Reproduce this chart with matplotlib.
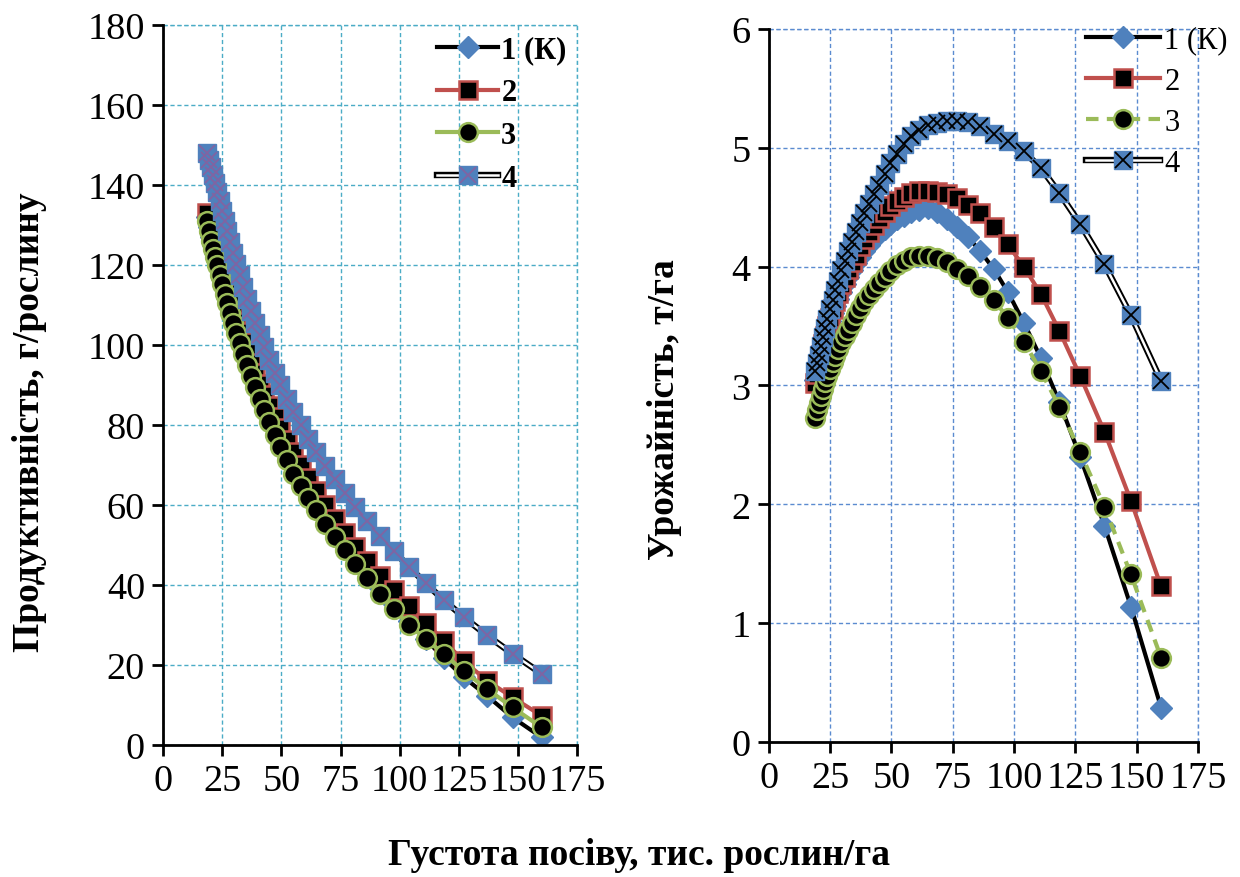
import matplotlib
matplotlib.use("Agg")
import matplotlib.pyplot as plt
import matplotlib.patheffects as pe

plt.rcParams['font.family'] = ['Liberation Serif', 'DejaVu Serif']

# густота посіву, тис. рослин/га
density = [18.7, 19.5, 20.3, 21.1, 22.0, 22.9, 23.9, 24.9, 26.0, 27.1,
           28.3, 29.6, 30.9, 32.3, 33.8, 35.4, 37.1, 38.9, 40.8, 42.8,
           44.9, 47.2, 49.6, 52.2, 55.0, 58.1, 61.4, 64.8, 68.5, 72.5,
           76.8, 81.3, 86.2, 91.8, 97.4, 104.0, 111.0, 118.5, 127.0, 136.9,
           147.7, 160.0]

# продуктивність, г/рослину
prod_1 = [132, 129.5, 127, 125, 123, 121, 118.7, 116.4, 114, 111.7,
          109.3, 106.9, 104.4, 101.9, 99.3, 96.6, 94, 91.3, 88.6, 85.9,
          83.1, 80.3, 77.4, 74.4, 71.3, 68.1, 64.8, 61.5, 58.0, 54.4,
          50.8, 47.1, 43.3, 39.2, 35.3, 30.9, 26.4, 21.8, 17.0, 12.3,
          6.9, 1.9]
prod_2 = [133, 130.5, 128, 126, 124, 122, 119.8, 117.6, 115.3, 113,
          110.6, 108.2, 105.8, 103.3, 100.8, 98.2, 95.6, 93, 90.3, 87.6,
          84.8, 82, 79.2, 76.2, 73.2, 70, 66.7, 63.4, 60, 56.5,
          53, 49.5, 46, 42.2, 38.7, 34.7, 30.6, 26.1, 21.0, 16.1,
          11.9, 7.3]
prod_3 = [131, 128.5, 126, 124, 122, 120, 117.5, 115.2, 112.8, 110.5,
          108, 105.6, 103, 100.5, 97.8, 95, 92.3, 89.5, 86.5, 83.7,
          80.8, 77.5, 74.5, 71.2, 67.8, 64.8, 61.8, 58.8, 55.2, 52.0,
          48.8, 45.2, 41.7, 37.8, 34.0, 30.0, 26.5, 22.8, 18.5, 14.0,
          9.4, 4.4]
prod_4 = [148, 146.2, 144.4, 142.6, 140.4, 138.2, 136, 133.6, 131, 128.5,
          125.8, 123, 120.3, 117.5, 114.6, 111.6, 108.6, 105.6, 102.5, 99.4,
          96.3, 93.1, 89.9, 86.6, 83.3, 79.9, 76.5, 73.2, 69.8, 66.4,
          63.0, 59.5, 56.0, 52.3, 48.6, 44.5, 40.4, 36.3, 32.0, 27.4,
          22.8, 17.8]

# урожайність, т/га
yield_1 = [3.05, 3.13, 3.20, 3.27, 3.34, 3.41, 3.48, 3.54, 3.61, 3.67,
           3.73, 3.79, 3.85, 3.91, 3.97, 4.03, 4.08, 4.13, 4.18, 4.23,
           4.28, 4.32, 4.36, 4.40, 4.43, 4.46, 4.48, 4.49, 4.46, 4.40,
           4.33, 4.25, 4.13, 3.98, 3.79, 3.53, 3.23, 2.86, 2.40, 1.82,
           1.14, 0.29]
yield_2 = [3.02, 3.10, 3.18, 3.26, 3.35, 3.42, 3.50, 3.57, 3.64, 3.71,
           3.78, 3.85, 3.91, 3.98, 4.04, 4.10, 4.17, 4.23, 4.29, 4.35,
           4.41, 4.46, 4.51, 4.55, 4.59, 4.62, 4.64, 4.64, 4.63, 4.61,
           4.58, 4.52, 4.45, 4.33, 4.19, 4.00, 3.77, 3.46, 3.08, 2.61,
           2.03, 1.31]
yield_3 = [2.73, 2.79, 2.85, 2.91, 2.97, 3.03, 3.08, 3.14, 3.20, 3.25,
           3.31, 3.37, 3.42, 3.47, 3.53, 3.59, 3.65, 3.71, 3.76, 3.81,
           3.86, 3.91, 3.96, 4.01, 4.05, 4.08, 4.09, 4.09, 4.07, 4.04,
           3.98, 3.92, 3.83, 3.72, 3.57, 3.37, 3.12, 2.82, 2.44, 1.98,
           1.41, 0.71]
yield_4 = [3.12, 3.19, 3.26, 3.33, 3.41, 3.48, 3.56, 3.64, 3.72, 3.80,
           3.88, 3.97, 4.05, 4.13, 4.21, 4.29, 4.37, 4.45, 4.53, 4.61,
           4.69, 4.78, 4.87, 4.95, 5.03, 5.10, 5.15, 5.19, 5.21, 5.23,
           5.23, 5.22, 5.18, 5.12, 5.06, 4.97, 4.83, 4.62, 4.36, 4.02,
           3.59, 3.04]

labels = ['1 (К)', '2', '3', '4']
xticks = [0, 25, 50, 75, 100, 125, 150, 175]

BLUE = '#4F81BD'
RED = '#C0504D'
GREEN = '#9BBB59'
PURPLE = '#8064A2'


def draw(ax, ys, x_color, dashed3):
    handles = []
    l1, = ax.plot(density, ys[0], color='black', lw=3.0, marker='D', ms=11,
                  mfc=BLUE, mec=BLUE)
    handles.append(l1)
    l2, = ax.plot(density, ys[1], color=RED, lw=3.0, marker='s', ms=13,
                  mfc='black', mec=RED, mew=1.8)
    handles.append(l2)
    l3, = ax.plot(density, ys[2], color=GREEN, lw=3.0,
                  ls=(0, (3, 2)) if dashed3 else '-', marker='o', ms=13.5,
                  mfc='black', mec=GREEN, mew=1.8)
    handles.append(l3)
    l4, = ax.plot(density, ys[3], color='white', lw=1.8,
                  path_effects=[pe.Stroke(linewidth=4.6, foreground='black'), pe.Normal()])
    m4, = ax.plot(density, ys[3], ls='none', marker='s', ms=13, mfc=BLUE, mec=BLUE)
    x4, = ax.plot(density, ys[3], ls='none', marker='x', ms=12, mec=x_color, mew=1.3)
    handles.append((l4, m4, x4))
    return handles


fig = plt.figure(figsize=(12.4, 8.78), dpi=100)
ax1 = fig.add_axes([0.1315, 0.1503, 0.334, 0.820])
ax2 = fig.add_axes([0.620, 0.1538, 0.346, 0.812])

h1 = draw(ax1, [prod_1, prod_2, prod_3, prod_4], PURPLE, False)
h2 = draw(ax2, [yield_1, yield_2, yield_3, yield_4], 'black', True)

for ax, gcol in ((ax1, '#4BACC6'), (ax2, '#5B8BD0')):
    ax.set_xlim(0, 175)
    ax.set_xticks(xticks)
    ax.grid(True, color=gcol, ls=(0, (3, 2)), lw=1.0)
    ax.set_axisbelow(True)
    for s in ('top', 'right'):
        ax.spines[s].set_visible(False)
    for s in ('left', 'bottom'):
        ax.spines[s].set_linewidth(2)
    ax.tick_params(direction='out', length=8, width=2, labelsize=27.5, pad=5)

ax1.set_ylim(0, 180)
ax1.set_yticks(range(0, 181, 20))
ax2.set_ylim(0, 6)
ax2.set_yticks(range(0, 7))

# рамка зверху/справа як лінія сітки
ax1.axhline(180, color='#4BACC6', ls=(0, (3, 2)), lw=1.0, clip_on=False)
ax1.axvline(175, color='#4BACC6', ls=(0, (3, 2)), lw=1.0, clip_on=False)
ax2.axhline(6, color='#5B8BD0', ls=(0, (3, 2)), lw=1.0, clip_on=False)
ax2.axvline(175, color='#5B8BD0', ls=(0, (3, 2)), lw=1.0, clip_on=False)

ax1.legend(h1, labels, loc='upper left', bbox_to_anchor=(0.61, 1.015),
           frameon=False, prop={'size': 22, 'weight': 'bold'},
           handlelength=2.0, handletextpad=0.1, labelspacing=0.45, borderpad=0.2)
ax2.legend(h2, labels, loc='upper left', bbox_to_anchor=(0.69, 1.035),
           frameon=False, prop={'size': 22},
           handlelength=2.4, handletextpad=0.15, labelspacing=0.4, borderpad=0.2)

fig.text(0.024, 0.519, 'Продуктивність, г/рослину', rotation=90, ha='center',
         va='center', fontsize=27, fontweight='bold')
fig.text(0.536, 0.533, 'Урожайність, т/га', rotation=90, ha='center',
         va='center', fontsize=27, fontweight='bold')
fig.text(0.515, 0.026, 'Густота посіву, тис. рослин/га', ha='center',
         va='center', fontsize=27, fontweight='bold')

fig.savefig('out.png', dpi=100)
